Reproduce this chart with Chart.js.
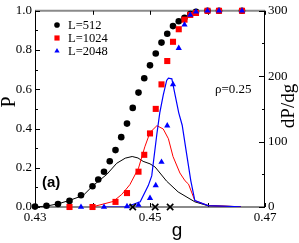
<!DOCTYPE html>
<html><head><meta charset="utf-8">
<script src="https://cdn.jsdelivr.net/npm/chart.js@4.4.1/dist/chart.umd.min.js"></script>
<style>html,body{margin:0;padding:0;background:#fff;overflow:hidden}#wrap{width:299px;height:243px;position:relative}</style>
</head><body><div id="wrap"><canvas id="c" width="299" height="243"></canvas></div>
<script>
// ---- data ----
const g512 = [0.430,0.432,0.434,0.436,0.438,0.440,0.441,0.442,0.443,0.444,0.445,0.446,0.447,0.448,0.449,0.450,0.451,0.452,0.453,0.454,0.455,0.456,0.457,0.458,0.460,0.462,0.466];
const p512 = [0.002,0.006,0.015,0.031,0.06,0.106,0.14,0.18,0.233,0.29,0.356,0.425,0.505,0.583,0.656,0.722,0.782,0.838,0.883,0.922,0.947,0.964,0.984,0.995,1.0,1.0,1.0];
const g1024 = [0.436,0.440,0.444,0.446,0.448,0.449,0.450,0.451,0.452,0.453,0.454,0.455,0.456,0.457,0.458,0.460,0.462,0.466];
const p1024 = [0,0,0.026,0.071,0.18,0.266,0.375,0.5,0.625,0.744,0.842,0.906,0.955,0.979,0.989,1,1,1];
const g2048 = [0.438,0.442,0.446,0.448,0.450,0.451,0.452,0.453,0.454,0.455,0.456,0.457,0.458,0.460,0.462,0.466];
const p2048 = [0,0,0.003,0.01,0.045,0.11,0.229,0.415,0.625,0.81,0.929,0.979,0.995,1,1,1];

const lineG512 = [0.430,0.4321,0.4343,0.4361,0.4384,0.4401,0.4425,0.4442,0.4457,0.4469,0.4479,0.4488,0.4500,0.4509,0.4529,0.4549,0.4578,0.4601,0.4658];
const dP512 = [0,1.5,5.5,10.4,17.8,32.7,50,66.8,74.7,77.2,75,69.8,66,61,39.4,23,7.9,1.9,0.4];
const lineG1024 = [0.4399,0.4436,0.4451,0.4465,0.4480,0.4491,0.4500,0.4512,0.4523,0.4532,0.4540,0.4552,0.4561,0.4567,0.4578,0.4601,0.4658];
const dP1024 = [0,8.5,19.3,34.2,59.4,92,114,124.3,119.3,104.4,77.2,52,40,35,9.7,2.2,0.4];
const lineG2048 = [0.4418,0.4459,0.4483,0.4497,0.4503,0.4512,0.4517,0.4523,0.4529,0.4532,0.4538,0.4543,0.4550,0.4556,0.4563,0.4571,0.4578,0.4601,0.4658];
const dP2048 = [0,0.4,7.9,32.7,47.5,112,144,171,193.5,197,196,174,144,125,85,40,9.7,2.2,0.4];

const peakG = [0.447,0.4509,0.4535];

const xTicks = [0.43,0.45,0.47];
const xMinor = [0.44,0.46];
const yTicks = [0,0.2,0.4,0.6,0.8,1.0];
const yMinor = [0.1,0.3,0.5,0.7,0.9];
const y2Ticks = [0,100,200,300];
const y2Minor = [50,150,250];
const seriesLabels = ['L=512','L=1024','L=2048'];
const xTitle = 'g', yTitle = 'P', y2Title = 'dP/dg', panelTag = '(a)', rhoText = 'ρ=0.25';

const pts = (xs, ys) => xs.map((x, i) => ({x, y: ys[i]}));
const SERIF = '"Liberation Serif","Times New Roman",serif';
const SANS = '"Liberation Sans",Arial,sans-serif';

const decor = {
  id: 'decor',
  beforeDatasetsDraw(chart) {
    const {ctx, chartArea: a, scales} = chart;
    ctx.save();
    // frame
    ctx.lineWidth = 2; ctx.strokeStyle = '#8a8a8a';
    ctx.beginPath(); ctx.moveTo(a.left, a.top); ctx.lineTo(a.right, a.top);
    ctx.moveTo(a.left, a.bottom); ctx.lineTo(a.right, a.bottom); ctx.stroke();
    ctx.lineWidth = 1; ctx.strokeStyle = '#000';
    ctx.beginPath();
    ctx.moveTo(a.left + 0.5, a.top); ctx.lineTo(a.left + 0.5, a.bottom);
    ctx.moveTo(a.right - 0.5, a.top); ctx.lineTo(a.right - 0.5, a.bottom);
    // ticks
    const yS = scales.y, y2S = scales.y2, xS = scales.x;
    yTicks.forEach(v => { const p = Math.round(yS.getPixelForValue(v)) + 0.5; ctx.moveTo(a.left, p); ctx.lineTo(a.left + 5, p); });
    yMinor.forEach(v => { const p = Math.round(yS.getPixelForValue(v)) + 0.5; ctx.moveTo(a.left, p); ctx.lineTo(a.left + 3, p); });
    y2Ticks.forEach(v => { const p = Math.round(y2S.getPixelForValue(v)) + 0.5; ctx.moveTo(a.right, p); ctx.lineTo(a.right - 6, p); });
    y2Minor.forEach(v => { const p = Math.round(y2S.getPixelForValue(v)) + 0.5; ctx.moveTo(a.right, p); ctx.lineTo(a.right - 3, p); });
    xTicks.concat(xMinor).forEach(v => { const p = Math.round(xS.getPixelForValue(v)) + 0.5; ctx.moveTo(p, a.top); ctx.lineTo(p, a.top + 4); ctx.moveTo(p, a.bottom); ctx.lineTo(p, a.bottom - 4); });
    ctx.stroke();
    ctx.restore();
  },
  afterDraw(chart) {
    const {ctx} = chart;
    ctx.save();
    ctx.fillStyle = '#000';
    ctx.textAlign = 'center'; ctx.textBaseline = 'middle';
    ctx.font = '20px ' + SERIF;
    ctx.save(); ctx.translate(10, 102); ctx.rotate(-Math.PI / 2); ctx.fillText(yTitle, 0, 0); ctx.restore();
    ctx.font = '19px ' + SERIF;
    ctx.save(); ctx.translate(289, 106); ctx.rotate(-Math.PI / 2); ctx.fillText(y2Title, 0, 0); ctx.restore();
    ctx.font = '19px ' + SANS;
    ctx.fillText(xTitle, 177, 231);
    ctx.font = 'bold 15px ' + SANS;
    ctx.textAlign = 'left';
    ctx.fillText(panelTag, 42, 183);
    ctx.font = '13px ' + SERIF;
    ctx.fillText(rhoText, 215, 90);
    // legend
    const rows = [25, 38, 51];
    [1, 2, 3].forEach((di, i) => {
      const ds = chart.data.datasets[4 - di];
      ctx.fillStyle = ds.backgroundColor; ctx.strokeStyle = ds.borderColor;
      Chart.helpers.drawPoint(ctx, {pointStyle: ds.pointStyle, radius: ds.pointRadius * 0.85, rotation: 0, borderWidth: 0}, 57, rows[i]);
      ctx.fillStyle = '#000';
      ctx.font = '12.5px ' + SERIF;
      ctx.fillText(ds.label, 68, rows[i] + 0.5);
    });
    ctx.restore();
  }
};

const tickFont = {family: SERIF, size: 13};
new Chart(document.getElementById('c'), {
  type: 'scatter',
  data: {
    datasets: [
      {label: 'peaks', data: peakG.map(x => ({x, y: 0})), yAxisID: 'y', pointStyle: 'crossRot', pointRadius: 4.5, borderWidth: 1.6, borderColor: '#000', backgroundColor: '#000', clip: false},
      {label: seriesLabels[2], data: pts(g2048, p2048), yAxisID: 'y', pointStyle: 'triangle', pointRadius: 3.6, borderWidth: 0, backgroundColor: '#0000ff', borderColor: '#0000ff', clip: false},
      {label: seriesLabels[1], data: pts(g1024, p1024), yAxisID: 'y', pointStyle: 'rect', pointRadius: 4.3, borderWidth: 0, backgroundColor: '#ff0000', borderColor: '#ff0000', clip: false},
      {label: seriesLabels[0], data: pts(g512, p512), yAxisID: 'y', pointStyle: 'circle', pointRadius: 3.3, borderWidth: 0, backgroundColor: '#000', borderColor: '#000', clip: false},
      {label: 'd2048', data: pts(lineG2048, dP2048), yAxisID: 'y2', showLine: true, pointRadius: 0, borderColor: '#0000ff', borderWidth: 1.2, tension: 0},
      {label: 'd1024', data: pts(lineG1024, dP1024), yAxisID: 'y2', showLine: true, pointRadius: 0, borderColor: '#ff0000', borderWidth: 1, tension: 0},
      {label: 'd512', data: pts(lineG512, dP512), yAxisID: 'y2', showLine: true, pointRadius: 0, borderColor: '#000', borderWidth: 1, tension: 0}
    ]
  },
  options: {
    responsive: false, animation: false,
    layout: {autoPadding: false, padding: {top: 5, left: 0, right: 0, bottom: 0}},
    plugins: {legend: {display: false}, tooltip: {enabled: false}},
    scales: {
      x: {type: 'linear', position: 'bottom', min: 0.43, max: 0.47,
        afterBuildTicks: s => { s.ticks = xTicks.map(v => ({value: v})); },
        afterFit: s => { s.height = 36; },
        ticks: {font: tickFont, color: '#000', padding: 3, maxRotation: 0, callback: v => v.toFixed(2)},
        grid: {display: false, drawTicks: false}, border: {display: false}},
      y: {type: 'linear', position: 'left', min: 0, max: 1,
        afterBuildTicks: s => { s.ticks = yTicks.map(v => ({value: v})); },
        afterFit: s => { s.width = 35; },
        ticks: {font: tickFont, color: '#000', padding: 3, callback: v => v.toFixed(1)},
        grid: {display: false, drawTicks: false}, border: {display: false}},
      y2: {type: 'linear', position: 'right', min: 0, max: 300,
        afterBuildTicks: s => { s.ticks = y2Ticks.map(v => ({value: v})); },
        afterFit: s => { s.width = 34; },
        ticks: {font: tickFont, color: '#000', padding: 3, callback: v => String(v)},
        grid: {display: false, drawTicks: false}, border: {display: false}}
    }
  },
  plugins: [decor]
});
</script></body></html>
